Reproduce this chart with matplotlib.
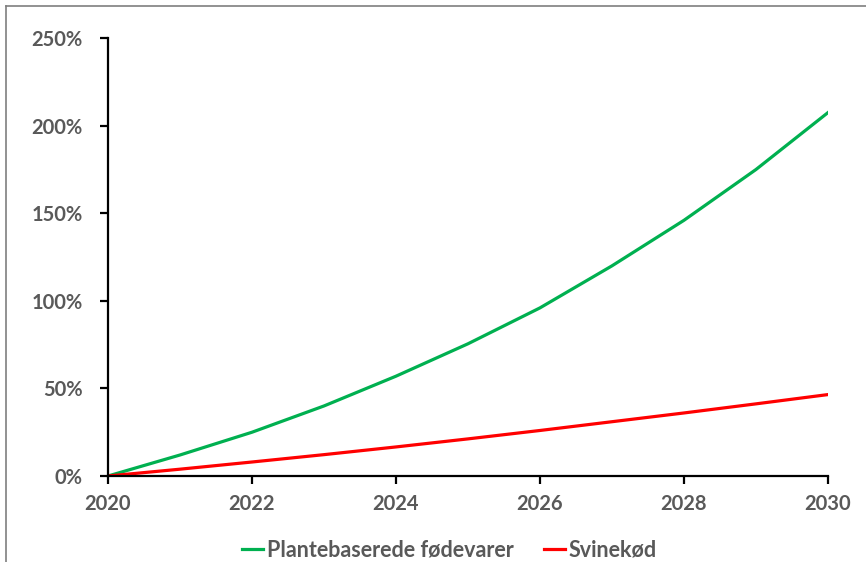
import matplotlib
matplotlib.use("Agg")
import matplotlib.pyplot as plt
from matplotlib.lines import Line2D
from matplotlib.ticker import PercentFormatter

years = [2020, 2021, 2022, 2023, 2024, 2025, 2026, 2027, 2028, 2029, 2030]
plant = [0, 12, 25, 40, 57, 75.5, 96, 120, 146, 175, 207.5]
pork = [0, 3.9, 8, 12.2, 16.6, 21.2, 26, 31, 36, 41.2, 46.5]

year_ticks = [2020, 2022, 2024, 2026, 2028, 2030]
pct_ticks = [0, 50, 100, 150, 200, 250]

plt.rcParams['font.family'] = ['Lato', 'DejaVu Sans']
text_col = '#595959'

fig = plt.figure(figsize=(8.66, 5.62), dpi=100)
ax = fig.add_axes([0.1247, 0.153, 0.8313, 0.779])

ax.plot(years, plant, color='#00B050', lw=2.3, label='Plantebaserede fødevarer')
ax.plot(years, pork, color='#FF0000', lw=2.3, label='Svinekød')

ax.set_xlim(2020, 2030)
ax.set_ylim(0, 250)
ax.set_xticks(year_ticks)
ax.set_yticks(pct_ticks)
ax.yaxis.set_major_formatter(PercentFormatter(decimals=0))

for side in ['top', 'right']:
    ax.spines[side].set_visible(False)
for side in ['left', 'bottom']:
    ax.spines[side].set_linewidth(1.6)
    ax.spines[side].set_color('black')

ax.tick_params(axis='both', direction='out', length=6, width=1.6, color='black',
               labelsize=14.5, labelcolor=text_col)
ax.tick_params(axis='x', pad=7)
ax.tick_params(axis='y', pad=12)
for lbl in ax.get_xticklabels() + ax.get_yticklabels():
    lbl.set_fontweight('bold')

leg = ax.legend(loc='upper center', bbox_to_anchor=(0.474, -0.1), ncol=2, frameon=False,
                handlelength=1.0, handletextpad=0.15, columnspacing=1.4,
                prop={'size': 15.5, 'weight': 'bold'})
for t in leg.get_texts():
    t.set_color(text_col)

# outer frame lines along top and left edge
fig.add_artist(Line2D([6 / 866, 6 / 866], [0, 1 - 6 / 562], transform=fig.transFigure,
                      color='#7f7f7f', lw=1.2))
fig.add_artist(Line2D([6 / 866, 1], [1 - 6 / 562, 1 - 6 / 562], transform=fig.transFigure,
                      color='#7f7f7f', lw=1.2))

fig.savefig('out.png', dpi=100)
